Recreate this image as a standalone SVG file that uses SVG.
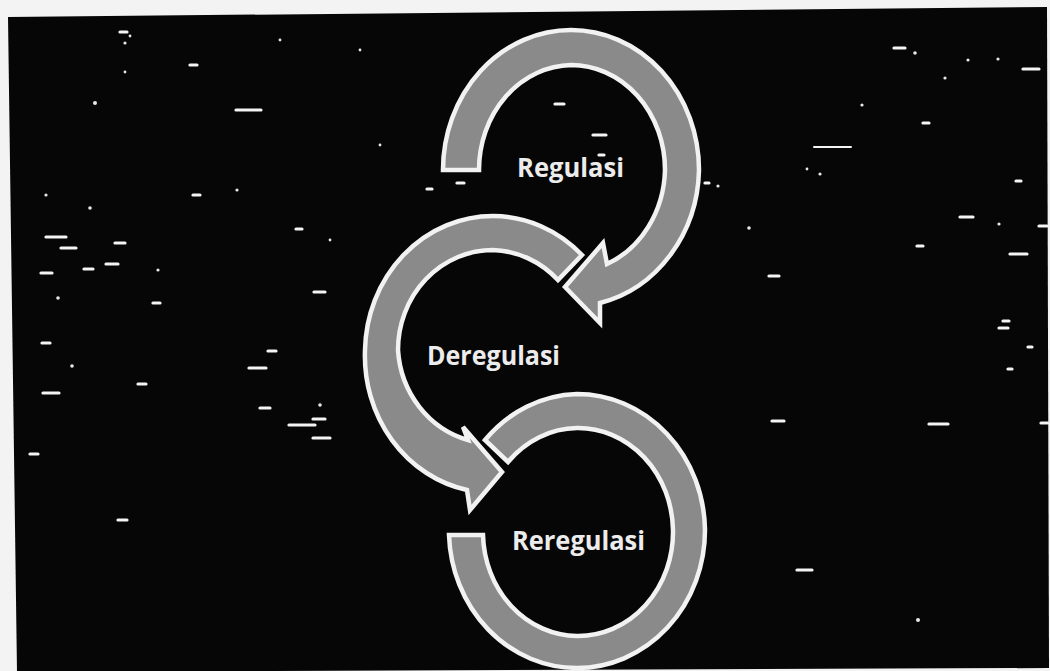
<svg xmlns="http://www.w3.org/2000/svg" width="1050" height="671" viewBox="0 0 1050 671">
<style>
.arrow{fill:#8a8a8a;stroke:#f2f2f2;stroke-width:4.5;stroke-linejoin:miter}
.label{font-family:"Open Sans","Noto Sans","Liberation Sans",sans-serif;font-weight:700;font-size:27px;fill:#ececec}
.dash{stroke:#f4f4f4;stroke-width:3.2;stroke-linecap:round}
.thin{stroke:#f4f4f4;stroke-width:2;stroke-linecap:round}
.dot{fill:#e8e8e8}
</style>
<rect x="0" y="0" width="1050" height="671" fill="#f3f3f3"/>
<polygon points="8,17 1047,7 1049,668 17,672" fill="#060606"/>
<g id="speckles">
<line class="dash" x1="236" y1="110" x2="261" y2="110"/>
<line class="dash" x1="190" y1="65" x2="197" y2="65"/>
<line class="dash" x1="120" y1="32" x2="127" y2="32"/>
<line class="dash" x1="46" y1="237" x2="66" y2="237"/>
<line class="dash" x1="61" y1="248" x2="76" y2="248"/>
<line class="dash" x1="41" y1="273" x2="52" y2="273"/>
<line class="dash" x1="84" y1="269" x2="93" y2="269"/>
<line class="dash" x1="106" y1="264" x2="118" y2="264"/>
<line class="dash" x1="115" y1="243" x2="125" y2="243"/>
<line class="dash" x1="153" y1="303" x2="160" y2="303"/>
<line class="dash" x1="42" y1="343" x2="50" y2="343"/>
<line class="dash" x1="43" y1="393" x2="59" y2="393"/>
<line class="dash" x1="138" y1="384" x2="146" y2="384"/>
<line class="dash" x1="249" y1="368" x2="266" y2="368"/>
<line class="dash" x1="268" y1="351" x2="276" y2="351"/>
<line class="dash" x1="260" y1="408" x2="270" y2="408"/>
<line class="dash" x1="289" y1="425" x2="315" y2="425"/>
<line class="dash" x1="313" y1="419" x2="325" y2="419"/>
<line class="dash" x1="313" y1="438" x2="330" y2="438"/>
<line class="dash" x1="30" y1="454" x2="38" y2="454"/>
<line class="dash" x1="314" y1="292" x2="325" y2="292"/>
<line class="dash" x1="296" y1="229" x2="302" y2="229"/>
<line class="dash" x1="193" y1="195" x2="200" y2="195"/>
<line class="dash" x1="118" y1="520" x2="127" y2="520"/>
<line class="thin" x1="814" y1="147" x2="851" y2="147"/>
<line class="dash" x1="923" y1="123" x2="929" y2="123"/>
<line class="dash" x1="960" y1="217" x2="973" y2="217"/>
<line class="dash" x1="1010" y1="254" x2="1027" y2="254"/>
<line class="dash" x1="1039" y1="226" x2="1047" y2="226"/>
<line class="dash" x1="917" y1="246" x2="923" y2="246"/>
<line class="dash" x1="769" y1="276" x2="779" y2="276"/>
<line class="dash" x1="772" y1="421" x2="784" y2="421"/>
<line class="dash" x1="929" y1="424" x2="948" y2="424"/>
<line class="dash" x1="1041" y1="423" x2="1048" y2="423"/>
<line class="dash" x1="1003" y1="321" x2="1009" y2="321"/>
<line class="dash" x1="999" y1="328" x2="1008" y2="328"/>
<line class="dash" x1="1028" y1="347" x2="1032" y2="347"/>
<line class="dash" x1="1008" y1="369" x2="1012" y2="369"/>
<line class="dash" x1="1016" y1="181" x2="1021" y2="181"/>
<line class="dash" x1="894" y1="48" x2="905" y2="48"/>
<line class="dash" x1="1023" y1="69" x2="1039" y2="69"/>
<line class="dash" x1="555" y1="104" x2="564" y2="104"/>
<line class="dash" x1="593" y1="135" x2="606" y2="135"/>
<line class="dash" x1="599" y1="155" x2="604" y2="155"/>
<line class="dash" x1="457" y1="183" x2="464" y2="183"/>
<line class="dash" x1="427" y1="189" x2="432" y2="189"/>
<line class="dash" x1="705" y1="183" x2="709" y2="183"/>
<line class="dash" x1="797" y1="570" x2="812" y2="570"/>
<circle class="dot" cx="46" cy="195" r="1.6"/>
<circle class="dot" cx="90" cy="208" r="1.8"/>
<circle class="dot" cx="58" cy="298" r="1.8"/>
<circle class="dot" cx="72" cy="366" r="1.8"/>
<circle class="dot" cx="158" cy="270" r="1.6"/>
<circle class="dot" cx="237" cy="190" r="1.6"/>
<circle class="dot" cx="320" cy="405" r="1.8"/>
<circle class="dot" cx="718" cy="186" r="1.6"/>
<circle class="dot" cx="749" cy="228" r="1.8"/>
<circle class="dot" cx="820" cy="174" r="1.6"/>
<circle class="dot" cx="807" cy="169" r="1.4"/>
<circle class="dot" cx="862" cy="105" r="1.6"/>
<circle class="dot" cx="999" cy="224" r="1.6"/>
<circle class="dot" cx="915" cy="53" r="1.8"/>
<circle class="dot" cx="968" cy="60" r="1.6"/>
<circle class="dot" cx="998" cy="59" r="1.6"/>
<circle class="dot" cx="945" cy="78" r="1.6"/>
<circle class="dot" cx="95" cy="103" r="2"/>
<circle class="dot" cx="125" cy="43" r="1.6"/>
<circle class="dot" cx="130" cy="36" r="1.4"/>
<circle class="dot" cx="125" cy="72" r="1.4"/>
<circle class="dot" cx="918" cy="620" r="2"/>
<circle class="dot" cx="280" cy="40" r="1.4"/>
<circle class="dot" cx="360" cy="50" r="1.4"/>
<circle class="dot" cx="380" cy="145" r="1.4"/>
<circle class="dot" cx="330" cy="240" r="1.4"/>
</g>
<g id="connectors"></g>
<g id="regulasi">
<path class="arrow" d="M 443,170 A 128,140 0 0 1 571,30 A 128,140 0 0 1 699,170 A 128,140 0 0 1 600,303 L 600,323 L 565,287 L 603,243 L 607,264 A 94,105 0 0 0 665,170 A 94,105 0 0 0 571,65 A 94,105 0 0 0 479,170 Z"/>
<text class="label" x="517" y="177" textLength="107" lengthAdjust="spacingAndGlyphs">Regulasi</text>
</g>
<g id="deregulasi">
<path class="arrow" d="M 582,255 A 128,137 0 0 0 493,216 A 128,137 0 0 0 365,350 A 128,137 0 0 0 467,490 L 470,510 L 502,472 L 463,427 L 468,440 A 95,100 0 0 1 398,350 A 95,100 0 0 1 493,250 A 95,100 0 0 1 558,280 Z"/>
<text class="label" x="427" y="365" textLength="133" lengthAdjust="spacingAndGlyphs">Deregulasi</text>
</g>
<g id="reregulasi">
<path class="arrow" d="M 449,535 A 128,138 0 0 0 577,668 A 128,138 0 0 0 705,530 A 128,138 0 0 0 577,394 A 128,138 0 0 0 485,440 L 508,462 A 95,104 0 0 1 577,428 A 95,104 0 0 1 673,530 A 95,104 0 0 1 577,636 A 95,104 0 0 1 483,535 Z"/>
<text class="label" x="512" y="550" textLength="133" lengthAdjust="spacingAndGlyphs">Reregulasi</text>
</g>
</svg>
